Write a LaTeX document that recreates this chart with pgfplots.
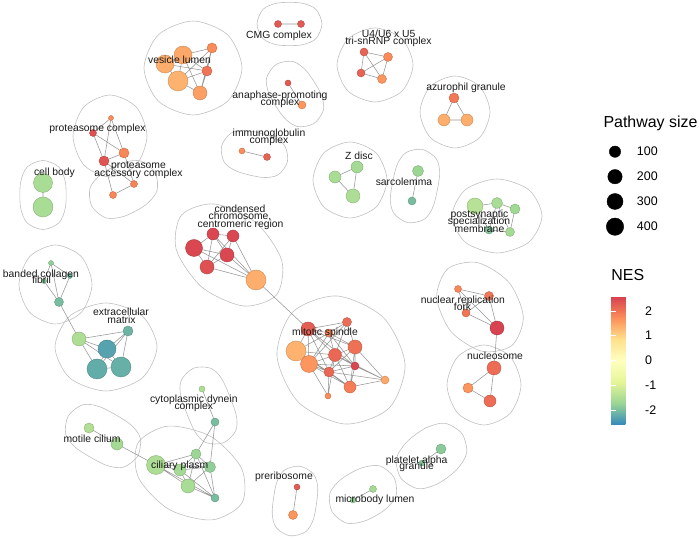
\documentclass[border=0pt]{standalone}
\usepackage{pgfplots}
\pgfplotsset{compat=1.18}
\usepackage{pgfplotstable}
\usepackage{fontspec}
\setmainfont{Liberation Sans}
\definecolor{edgecol}{RGB}{150,150,150}
\definecolor{hullcol}{RGB}{192,192,192}
\newcommand\labfont{\fontsize{10.4}{12}\selectfont}
\newcommand\lab[3]{\node[anchor=base,inner sep=0pt,font=\labfont,text=black!90] at (axis cs:#1,#2) {#3};}

% nodes: x y (pixel), radius (px), NES
\pgfplotstableread{
x y r nes
183 55 9 1.45
165 64 9 1.4
178 81 10 1.35
200 93 7 1.55
207 71 5 2.0
212 48 5 1.75
278 24 3.5 2.3
301 24 3.5 2.3
288 83 3 2.3
302 105 4 1.65
242 151 3 1.75
267 157 3.5 2.2
111 118 2.5 1.75
93 133 3.5 2.4
124 153 5 1.8
104 161 5 2.35
113 195 3.5 1.8
134 184 3.5 1.85
43 183 9.5 -1.55
43 207 10 -1.55
213 234 6 2.5
233 236 6 2.5
194 248 8.5 2.5
227 255 7 2.5
207 267 7 2.4
256 280 10 1.4
308 329 7 2.25
347 322 4.5 2.1
329 333 4 1.85
296 351 10 1.35
335 355 6.5 2.15
355 347 7 2.05
309 364 8.5 1.65
329 372 5 2.15
355 366 4 2.5
350 387 6 1.9
385 380 4 1.45
328 396 3 1.75
458 289 3.5 1.8
489 296 4.5 1.95
466 313 4 2.0
497 328 7 2.55
494 368 7 2.1
468 388 5 1.65
490 401 6 2.1
364 52 4 2.2
388 57 4.5 1.75
361 73 4 2.2
382 79 4.5 1.65
454 98 5 1.95
444 120 6 1.4
467 120 6 1.4
335 177 6 -1.55
357 167 6 -1.6
353 196 7 -1.5
418 171 5.5 -1.7
412 201 4 -2.0
475 206 8 -1.4
497 203 5.5 -1.55
515 209 5 -1.65
510 232 4.5 -1.6
489 230 4 -1.9
51 263 2.5 -1.8
70 276 2.5 -2.05
44 281 2.5 -1.85
59 302 4.5 -2.0
79 339 7 -1.5
128 331 5 -2.1
107 349 9 -2.3
97 369 10 -2.2
121 367 10 -2.15
89 428 5 -1.45
117 444 6 -1.6
156 465 9.5 -1.5
196 454 5 -1.7
180 470 6 -1.6
210 467 5.5 -1.8
188 486 7 -1.55
215 498 4 -2.0
202 389 3 -1.5
215 422 4 -2.0
441 449 5 -1.85
422 463 3 -1.9
373 489 3.5 -1.6
353 500 3 -1.8
297 487 3 2.3
293 515 4.5 1.65
}\nodes

\pgfplotstableread{
x y r
615 151.7 5.7
615 176.7 7.2
615 201.5 8.0
615 226.7 8.7
}\sizeleg

\begin{document}
\begin{tikzpicture}
\begin{axis}[
  set layers=standard,
  x=1bp, y=1bp, y dir=reverse,
  xmin=0, xmax=700, ymin=0, ymax=538,
  hide axis, clip=false,
  colormap={spec}{rgb255=(50,136,189) rgb255=(153,213,148) rgb255=(230,245,152) rgb255=(255,255,191) rgb255=(254,224,139) rgb255=(252,141,89) rgb255=(213,62,79)},
  point meta min=-2.6, point meta max=2.6,
  colorbar,
  colorbar style={
    at={(parent axis.north west)}, anchor=north west,
    xshift=602.7bp, yshift=-296bp,
    width=25bp, height=129bp, scale only axis,
    y dir=normal,
    ytick={-2,-1,0,1,2}, yticklabels={-2,-1,0,1,2},
    ytick pos=both, yticklabel pos=right,
    tick align=inside, major tick length=5bp,
    every tick/.style={white, line width=0.6bp},
    axis line style={draw=none},
    yticklabel style={font=\fontsize{12.5}{14}\selectfont, inner sep=0pt, anchor=west, xshift=8.7bp},
    title={NES},
    title style={at={(0,1)}, anchor=south west, inner sep=0pt, yshift=9.3bp, font=\fontsize{16}{18}\selectfont},
  },
]
\path (axis cs:0,0) rectangle (axis cs:700,538);

% ---- cluster hulls ----
\pgfplotsset{hull/.style={hullcol, line width=0.6bp, smooth cycle, no marks, forget plot}}
% CMG complex
\addplot[hull] coordinates {(278,3) (263.2,9.2) (257,24) (263.2,38.8) (278,45) (301,45) (315.8,38.8) (322,24) (315.8,9.2) (301,3)};
% vesicle lumen
\addplot[hull] coordinates {(242,68) (227.6,101.2) (193,115) (158.4,101.2) (144,68) (158.4,34.8) (193,21) (227.6,34.8)};
% anaphase-promoting complex
\addplot[hull] coordinates {(306.6,71.2) (292.8,61.5) (276.2,64.4) (266.5,78.2) (269.4,94.8) (283.4,116.8) (297.2,126.5) (313.8,123.6) (323.5,109.8) (320.6,93.2)};
% immunoglobulin complex
\addplot[hull] coordinates {(246.9,130.6) (231,133.1) (221.6,146.1) (224.1,162) (237.1,171.4) (262.1,177.4) (278,174.9) (287.4,161.9) (284.9,146) (271.9,136.6)};
% proteasome complex
\addplot[hull] coordinates {(147,136) (136.2,165) (110,177) (83.8,165) (73,136) (83.8,107) (110,95) (136.2,107)};
% proteasome accessory complex
\addplot[hull] coordinates {(101.9,173.7) (90.1,187.8) (91.7,206.1) (105.8,217.9) (124.1,216.3) (145.1,205.3) (156.9,191.2) (155.3,172.9) (141.2,161.1) (122.9,162.7)};
% cell body
\addplot[hull] coordinates {(65.5,183) (58.9,167.1) (43,160.5) (27.1,167.1) (20.5,183) (20.5,207) (27.1,222.9) (43,229.5) (58.9,222.9) (65.5,207)};
% condensed chromosome
\addplot[hull] coordinates {(276.5,294.9) (243.5,306) (202,287.2) (176.3,249.6) (181.5,215.1) (214.5,204) (256,222.8) (281.7,260.4)};
% mitotic spindle
\addplot[hull] coordinates {(389.1,408.1) (345,424) (298.6,402.4) (277,356) (292.9,311.9) (337,296) (383.4,317.6) (405,364)};
% nuclear replication fork
\addplot[hull] coordinates {(512.1,345.3) (482.1,351.3) (450.9,331.4) (436.7,297.2) (447.9,268.7) (477.9,262.7) (509.1,282.6) (523.3,316.8)};
% nucleosome
\addplot[hull] coordinates {(521,385) (510.2,413.3) (484,425) (457.8,413.3) (447,385) (457.8,356.7) (484,345) (510.2,356.7)};
% platelet alpha granule
\addplot[hull] coordinates {(406.6,442.1) (396.3,459.1) (401.1,478.4) (418.1,488.7) (437.4,483.9) (456.4,469.9) (466.7,452.9) (461.9,433.6) (444.9,423.3) (425.6,428.1)};
% microbody lumen
\addplot[hull] coordinates {(341.4,479) (329.9,493.3) (332,511.6) (346.3,523.1) (364.6,521) (384.6,510) (396.1,495.7) (394,477.4) (379.7,465.9) (361.4,468)};
% preribosome
\addplot[hull] coordinates {(317.8,490) (313.8,474.4) (300,466.2) (284.4,470.2) (276.2,484) (272.2,512) (276.2,527.6) (290,535.8) (305.6,531.8) (313.8,518)};
% ciliary plasm
\addplot[hull] coordinates {(242,503) (211.9,519.9) (169,509.4) (138.4,477.5) (138,443) (168.1,426.1) (211,436.6) (241.6,468.5)};
% cytoplasmic dynein complex
\addplot[hull] coordinates {(222.9,380.8) (211,368.4) (193.8,368.1) (181.4,380) (181.1,397.2) (194.1,430.2) (206,442.6) (223.2,442.9) (235.6,431) (235.9,413.8)};
% motile cilium
\addplot[hull] coordinates {(100.9,407.2) (82.7,404.8) (68.2,416.1) (65.8,434.3) (77.1,448.8) (105.1,464.8) (123.3,467.2) (137.8,455.9) (140.2,437.7) (128.9,423.2)};
% extracellular matrix
\addplot[hull] coordinates {(157,347) (142.1,378.1) (106,391) (69.9,378.1) (55,347) (69.9,315.9) (106,303) (142.1,315.9)};
% banded collagen fibril
\addplot[hull] coordinates {(92,284.5) (81.3,312.4) (55.5,324) (29.7,312.4) (19,284.5) (29.7,256.6) (55.5,245) (81.3,256.6)};
% U4/U6 x U5
\addplot[hull] coordinates {(413,65) (401.9,91.2) (375,102) (348.1,91.2) (337,65) (348.1,38.8) (375,28) (401.9,38.8)};
% azurophil granule
\addplot[hull] coordinates {(490,112) (479.7,137.5) (455,148) (430.3,137.5) (420,112) (430.3,86.5) (455,76) (479.7,86.5)};
% Z disc
\addplot[hull] coordinates {(387,180) (376.2,206.9) (350,218) (323.8,206.9) (313,180) (323.8,153.1) (350,142) (376.2,153.1)};
% sarcolemma
\addplot[hull] coordinates {(439.6,175.3) (436.3,158.8) (422.3,149.4) (405.8,152.7) (396.4,166.7) (390.4,196.7) (393.7,213.2) (407.7,222.6) (424.2,219.3) (433.6,205.3)};
% postsynaptic specialization membrane
\addplot[hull] coordinates {(542,216) (528.8,242.2) (497,253) (465.2,242.2) (452,216) (465.2,189.8) (497,179) (528.8,189.8)};

% ---- edges ----
\addplot[edgecol, line width=0.55bp, no marks, unbounded coords=jump, forget plot] coordinates {
(183,55)(165,64) (nan,nan) (183,55)(178,81) (nan,nan) (183,55)(207,71) (nan,nan) (183,55)(212,48) (nan,nan) (183,55)(200,93) (nan,nan)
(165,64)(178,81) (nan,nan) (178,81)(200,93) (nan,nan) (178,81)(207,71) (nan,nan) (178,81)(212,48) (nan,nan) (200,93)(207,71) (nan,nan)
(200,93)(212,48) (nan,nan) (207,71)(212,48) (nan,nan) (165,64)(207,71) (nan,nan)
(278,24)(301,24) (nan,nan) (288,83)(302,105) (nan,nan) (242,151)(267,157) (nan,nan)
(111,118)(93,133) (nan,nan) (111,118)(124,153) (nan,nan) (111,118)(104,161) (nan,nan) (93,133)(104,161) (nan,nan) (93,133)(124,153) (nan,nan)
(124,153)(104,161) (nan,nan) (104,161)(113,195) (nan,nan) (124,153)(134,184) (nan,nan) (104,161)(134,184) (nan,nan) (113,195)(134,184) (nan,nan)
(43,183)(43,207) (nan,nan)
(213,234)(233,236) (nan,nan) (213,234)(194,248) (nan,nan) (213,234)(227,255) (nan,nan) (213,234)(207,267) (nan,nan) (233,236)(227,255) (nan,nan)
(194,248)(227,255) (nan,nan) (194,248)(207,267) (nan,nan) (227,255)(207,267) (nan,nan) (233,236)(207,267) (nan,nan) (233,236)(256,280) (nan,nan)
(227,255)(256,280) (nan,nan) (207,267)(256,280) (nan,nan) (213,234)(256,280) (nan,nan) (194,248)(256,280) (nan,nan) (256,280)(308,329) (nan,nan)
(308,329)(347,322) (nan,nan) (308,329)(329,333) (nan,nan) (308,329)(296,351) (nan,nan) (308,329)(335,355) (nan,nan) (308,329)(355,347) (nan,nan)
(308,329)(309,364) (nan,nan) (308,329)(329,372) (nan,nan) (308,329)(355,366) (nan,nan) (347,322)(329,333) (nan,nan) (347,322)(335,355) (nan,nan)
(347,322)(355,347) (nan,nan) (347,322)(309,364) (nan,nan) (347,322)(329,372) (nan,nan) (329,333)(296,351) (nan,nan) (329,333)(335,355) (nan,nan)
(329,333)(355,347) (nan,nan) (329,333)(309,364) (nan,nan) (329,333)(355,366) (nan,nan) (296,351)(335,355) (nan,nan) (296,351)(309,364) (nan,nan)
(296,351)(329,372) (nan,nan) (296,351)(350,387) (nan,nan) (335,355)(355,347) (nan,nan) (335,355)(309,364) (nan,nan) (335,355)(329,372) (nan,nan)
(335,355)(355,366) (nan,nan) (335,355)(350,387) (nan,nan) (355,347)(329,372) (nan,nan) (355,347)(355,366) (nan,nan) (355,347)(350,387) (nan,nan)
(355,347)(385,380) (nan,nan) (309,364)(329,372) (nan,nan) (309,364)(355,366) (nan,nan) (309,364)(350,387) (nan,nan) (309,364)(328,396) (nan,nan)
(329,372)(355,366) (nan,nan) (329,372)(350,387) (nan,nan) (329,372)(328,396) (nan,nan) (355,366)(350,387) (nan,nan) (355,366)(385,380) (nan,nan)
(350,387)(385,380) (nan,nan) (335,355)(385,380) (nan,nan) (329,372)(385,380) (nan,nan) (335,355)(328,396) (nan,nan)
(458,289)(489,296) (nan,nan) (458,289)(466,313) (nan,nan) (458,289)(497,328) (nan,nan) (489,296)(497,328) (nan,nan) (466,313)(497,328) (nan,nan)
(489,296)(466,313) (nan,nan) (497,328)(494,368) (nan,nan)
(494,368)(468,388) (nan,nan) (494,368)(490,401) (nan,nan) (468,388)(490,401) (nan,nan)
(364,52)(388,57) (nan,nan) (364,52)(361,73) (nan,nan) (364,52)(382,79) (nan,nan) (388,57)(361,73) (nan,nan) (388,57)(382,79) (nan,nan) (361,73)(382,79) (nan,nan)
(454,98)(444,120) (nan,nan) (454,98)(467,120) (nan,nan) (444,120)(467,120) (nan,nan)
(335,177)(357,167) (nan,nan) (357,167)(353,196) (nan,nan) (335,177)(353,196) (nan,nan)
(418,171)(412,201) (nan,nan)
(475,206)(497,203) (nan,nan) (497,203)(515,209) (nan,nan) (515,209)(510,232) (nan,nan) (510,232)(489,230) (nan,nan) (475,206)(489,230) (nan,nan)
(497,203)(510,232) (nan,nan) (497,203)(489,230) (nan,nan)
(51,263)(70,276) (nan,nan) (51,263)(44,281) (nan,nan) (51,263)(59,302) (nan,nan) (70,276)(59,302) (nan,nan) (44,281)(59,302) (nan,nan) (59,302)(79,339) (nan,nan)
(79,339)(128,331) (nan,nan) (79,339)(107,349) (nan,nan) (79,339)(97,369) (nan,nan) (79,339)(121,367) (nan,nan) (128,331)(107,349) (nan,nan)
(128,331)(121,367) (nan,nan) (107,349)(97,369) (nan,nan) (107,349)(121,367) (nan,nan) (97,369)(121,367) (nan,nan) (128,331)(97,369) (nan,nan)
(89,428)(117,444) (nan,nan) (117,444)(156,465) (nan,nan)
(156,465)(196,454) (nan,nan) (156,465)(180,470) (nan,nan) (156,465)(210,467) (nan,nan) (156,465)(188,486) (nan,nan) (156,465)(215,498) (nan,nan)
(196,454)(180,470) (nan,nan) (196,454)(210,467) (nan,nan) (196,454)(188,486) (nan,nan) (196,454)(215,498) (nan,nan) (180,470)(210,467) (nan,nan)
(180,470)(188,486) (nan,nan) (180,470)(215,498) (nan,nan) (210,467)(188,486) (nan,nan) (210,467)(215,498) (nan,nan) (188,486)(215,498) (nan,nan)
(202,389)(215,422) (nan,nan) (215,422)(196,454) (nan,nan) (215,422)(210,467) (nan,nan)
(441,449)(422,463) (nan,nan) (373,489)(353,500) (nan,nan) (297,487)(293,515)
};

% ---- pathway nodes ----
\addplot[scatter, only marks, mark=*, forget plot,
  point meta=\thisrow{nes},
  visualization depends on={\thisrow{r} \as \rad},
  scatter/@pre marker code/.append style={/tikz/mark size=\rad bp}]
  table[x=x, y=y] {\nodes};

% ---- size legend ----
\addplot[scatter, only marks, mark=*, forget plot,
  point meta=\thisrow{r},
  scatter/use mapped color={draw=black, fill=black},
  visualization depends on={\thisrow{r} \as \rad},
  scatter/@pre marker code/.append style={/tikz/mark size=\rad bp}]
  table[x=x, y=y] {\sizeleg};

\begin{pgfonlayer}{axis foreground}
\node[anchor=base west, inner sep=0pt, font=\fontsize{16}{18}\selectfont] at (axis cs:603.3,127.3) {Pathway size};
\node[anchor=west, inner sep=0pt, font=\fontsize{12.5}{14}\selectfont] at (axis cs:636.7,151.7) {100};
\node[anchor=west, inner sep=0pt, font=\fontsize{12.5}{14}\selectfont] at (axis cs:636.7,176.7) {200};
\node[anchor=west, inner sep=0pt, font=\fontsize{12.5}{14}\selectfont] at (axis cs:636.7,201.5) {300};
\node[anchor=west, inner sep=0pt, font=\fontsize{12.5}{14}\selectfont] at (axis cs:636.7,226.7) {400};

% ---- labels ----
\lab{279}{39}{CMG complex}
\lab{179.5}{64}{vesicle lumen}
\lab{280}{99}{anaphase-promoting}
\lab{280}{105.5}{complex}
\lab{269}{137}{immunoglobulin}
\lab{269}{144}{complex}
\lab{97.5}{132}{proteasome complex}
\lab{138.5}{169}{proteasome}
\lab{138.5}{176.7}{accessory complex}
\lab{54.5}{175.7}{cell body}
\lab{240}{212.5}{condensed}
\lab{240}{220}{chromosome,}
\lab{240.5}{227.7}{centromeric region}
\lab{388.7}{37.3}{U4/U6 x U5}
\lab{388.5}{45}{tri-snRNP complex}
\lab{466}{90.7}{azurophil granule}
\lab{359}{159.3}{Z disc}
\lab{404}{185.7}{sarcolemma}
\lab{479.5}{217.3}{postsynaptic}
\lab{479}{225}{specialization}
\lab{479.5}{232.7}{membrane}
\lab{41}{277.3}{banded collagen}
\lab{41.5}{284}{fibril}
\lab{121}{316}{extracellular}
\lab{121.5}{323.3}{matrix}
\lab{325}{335.7}{mitotic spindle}
\lab{462.8}{303.3}{nuclear replication}
\lab{462.5}{310.7}{fork}
\lab{495}{360}{nucleosome}
\lab{416.7}{463.3}{platelet alpha}
\lab{416.7}{470}{granule}
\lab{375}{502.3}{microbody lumen}
\lab{284}{480}{preribosome}
\lab{179.7}{469}{ciliary plasm}
\lab{193.8}{402.7}{cytoplasmic dynein}
\lab{193.8}{410}{complex}
\lab{92}{442.7}{motile cilium}
\end{pgfonlayer}
\end{axis}
\end{tikzpicture}
\end{document}
